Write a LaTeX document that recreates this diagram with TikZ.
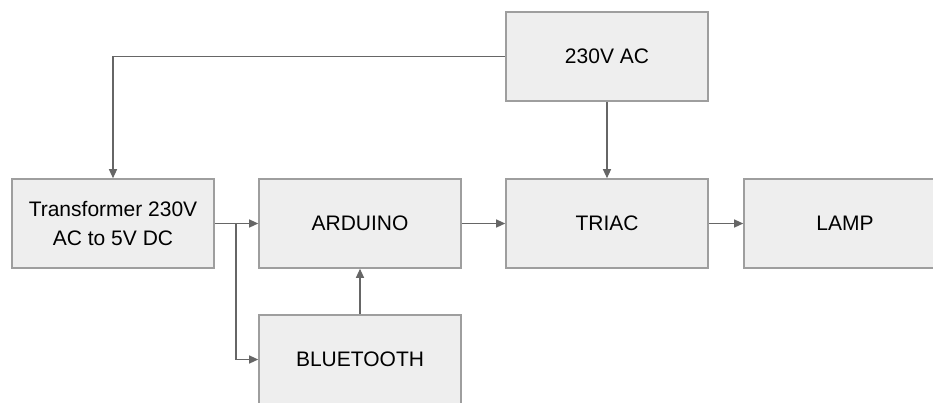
\documentclass[tikz,border=0pt]{standalone}
\usepackage{fontspec}
\setmainfont{Liberation Sans}
\usetikzlibrary{arrows.meta}
\definecolor{boxfill}{HTML}{EEEEEE}
\definecolor{boxdraw}{HTML}{9E9E9E}
\definecolor{linegray}{HTML}{666666}
\begin{document}
\begin{tikzpicture}[x=1pt,y=-1pt,
  blk/.style={draw=boxdraw,fill=boxfill,line width=1.6pt,minimum width=202pt,minimum height=89pt,inner sep=0pt,align=center,font=\fontsize{21}{29}\selectfont},
  conn/.style={draw=linegray,line width=1.2pt,-{Triangle[length=9pt,width=8pt]}},
  plain/.style={draw=linegray,line width=1.2pt}]
\fill[white] (0,0) rectangle (933,402);
\useasboundingbox (0,0) rectangle (933,402);
\clip (0,0) rectangle (933,402);
\node[blk] (ac) at (607,56.5) {230V AC};
\node[blk] (tr) at (113,223.5) {Transformer 230V\\AC to 5V DC};
\node[blk] (ard) at (360,223.5) {ARDUINO};
\node[blk] (tri) at (607,223.5) {TRIAC};
\node[blk] (lamp) at (845,223.5) {LAMP};
\node[blk] (bt) at (360,359.5) {BLUETOOTH};
\coordinate (br) at (236,223.5);
\draw[conn] (ac.west) -| (tr.north);
\draw[conn] (ac.south) -- (tri.north);
\draw[conn] (tr.east) -- (ard.west);
\draw[conn] (br) |- (bt.west);
\draw[conn] (bt.north) -- (ard.south);
\draw[conn] (ard.east) -- (tri.west);
\draw[conn] (tri.east) -- (lamp.west);
\end{tikzpicture}
\end{document}
